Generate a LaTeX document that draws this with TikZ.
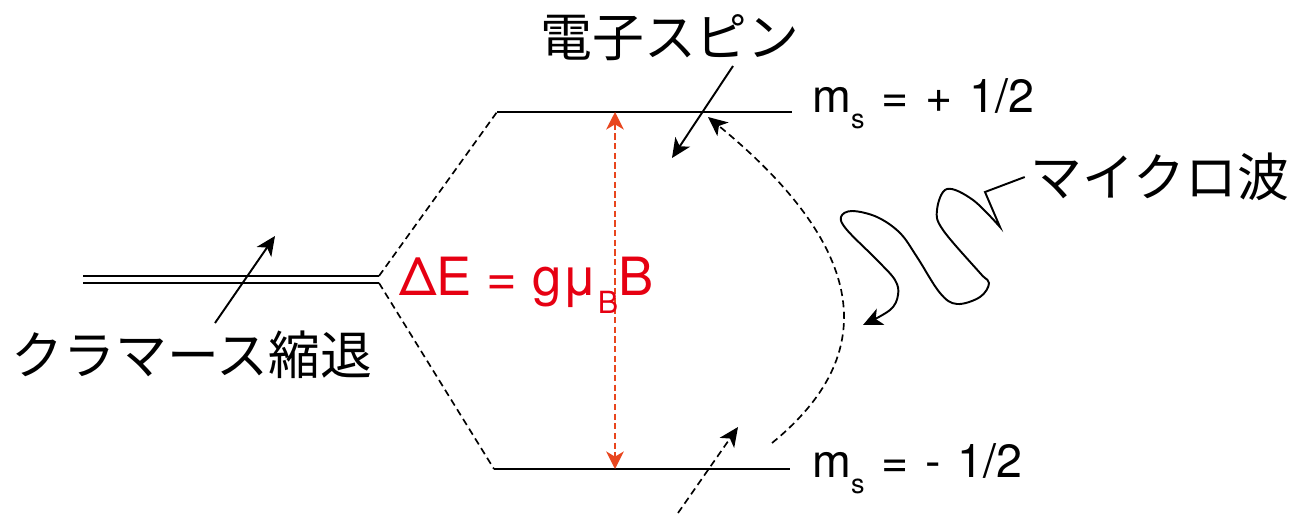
\documentclass[tikz,border=0pt]{standalone}
\usepackage{fontspec}
\setmainfont{TeX Gyre Heros}
\newfontfamily\jfont{Noto Sans CJK JP}
\usetikzlibrary{arrows.meta}
\definecolor{gapred}{HTML}{E60012}
\definecolor{gaporange}{HTML}{E8461E}
\newcommand{\lowsub}[1]{\raisebox{-0.36em}{\scalebox{0.58}{#1}}}
\tikzset{
  lvl/.style={line width=1.25pt},
  splitline/.style={line width=0.95pt,dash pattern=on 4pt off 2.5pt},
  pointer/.style={-{Stealth[length=11pt,width=10pt,inset=3pt]},line width=1.1pt},
  dashpointer/.style={pointer,line width=0.95pt,dash pattern=on 4pt off 2.5pt},
  gaparrow/.style={{Stealth[length=10pt,width=10pt,inset=3pt]}-{Stealth[length=10pt,width=10pt,inset=3pt]},
                   gaporange,line width=0.9pt,dash pattern=on 3.5pt off 2pt},
  mlabel/.style={font={\fontsize{26.5}{30}\selectfont\spaceskip=0.36em}},
  gaplabel/.style={text=gapred,font=\fontsize{30}{36}\selectfont,inner sep=0pt},
  jlabel/.style={font=\jfont\fontsize{29.5}{34}\selectfont},
}

\begin{document}
\begin{tikzpicture}[x=0.02cm,y=-0.02cm]
\useasboundingbox (0,0) rectangle (1309,514);

% --- degenerate level and its splitting ---
\coordinate (deg-a)  at (83,276);
\coordinate (deg-b)  at (83,283);
\coordinate (fork-a) at (379,276);
\coordinate (fork-b) at (379,283);
\coordinate (up-l)   at (497,112);
\coordinate (up-r)   at (792,112);
\coordinate (dn-l)   at (494,469);
\coordinate (dn-r)   at (790,469);

\draw[lvl] (deg-a) -- (fork-a);
\draw[lvl] (deg-b) -- (fork-b);
\draw[splitline] (fork-a) -- (up-l);
\draw[splitline] (fork-b) -- (dn-l);
\draw[lvl] (up-l) -- (up-r);
\draw[lvl] (dn-l) -- (dn-r);

\node[mlabel, inner sep=0pt, anchor=base west] (ms-up) at (812,112) {m\lowsub{s} = + 1/2};
\node[mlabel, inner sep=0pt, anchor=base west] (ms-dn) at (812,477) {m\lowsub{s} = - 1/2};

% --- energy gap ---
\coordinate (gap-top) at (615,112);
\coordinate (gap-bot) at (615,469);
\draw[gaparrow] (gap-top) -- (gap-bot);
\node[gaplabel, anchor=base west] (dE) at (399,295) {ΔE = gμ\lowsub{B}B};

% --- labels and pointers ---
\node[jlabel] (spin)    at (670,38)  {電子スピン};
\node[jlabel] (kramers) at (192,355) {クラマース縮退};
\node[jlabel] (mw)      at (1160,177) {マイクロ波};

\coordinate (spin-tail) at (733,66);
\coordinate (spin-tip)  at (672,158);
\coordinate (kr-tail)   at (215,323);
\coordinate (kr-tip)    at (275,236);
\coordinate (low-tail)  at (678,513);
\coordinate (low-tip)   at (738,427);
\coordinate (tr-start)  at (772,443);
\coordinate (tr-end)    at (708,117);

\draw[pointer] (spin-tail) -- (spin-tip);
\draw[pointer] (kr-tail) -- (kr-tip);
\draw[dashpointer] (low-tail) -- (low-tip);
\draw[dashpointer] (tr-start) .. controls (880,355) and (870,250) .. (tr-end);

% microwave squiggle
\draw[pointer] (mw.west) -- (985,192) -- plot[smooth,tension=0.6] coordinates {
  (1000,227) (973,200) (947,189) (937,210) (943,230) (980,273) (989,283)
  (980,297) (957,304) (940,293) (917,257) (900,233) (877,217) (852,211)
  (841,217) (847,230) (877,260) (895,280) (898,295) (890,310) (863,325)};

\end{tikzpicture}
\end{document}
